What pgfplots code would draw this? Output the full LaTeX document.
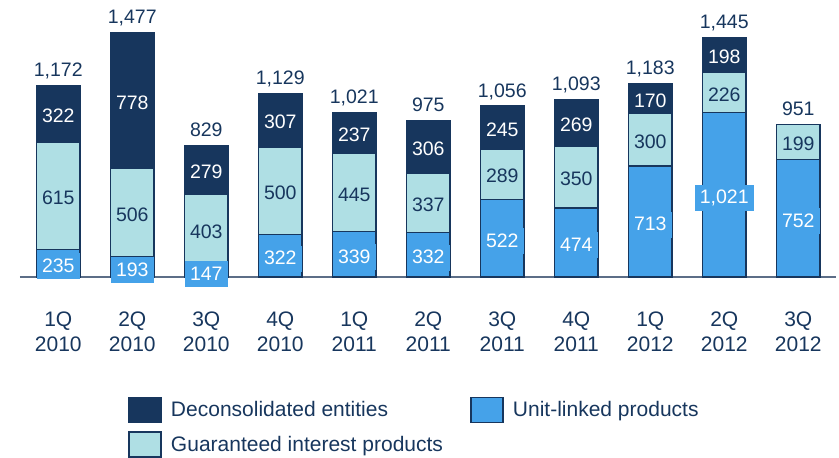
\documentclass[border=0pt]{standalone}
\usepackage{fontspec}
\setmainfont{Liberation Sans}
\usepackage{pgfplots}
\usepackage{pgfplotstable}
\pgfplotsset{compat=1.18}

\definecolor{navy}{HTML}{17365D}
\definecolor{ulblue}{HTML}{45A2E9}
\definecolor{gicyan}{HTML}{AFDFE4}
\definecolor{axgray}{HTML}{5C6E87}

\newcommand\lab{\fontsize{19.5}{22}\selectfont}
\newcommand\tck{\fontsize{21}{25}\selectfont}

\pgfplotsset{
    frame/.style={
        x=74pt, y=0.175pt,
        xmin=-0.52, xmax=10.51,
        ymin=79, ymax=1560,
        /pgf/number format/.cd, fixed, precision=0, 1000 sep={,}, assume math mode=true,
        /pgfplots/.cd,
    },
    swatch/.style={legend image code/.code={%
        \path[draw=none, fill=none] (0pt,0pt) rectangle (32pt,20.5pt);
        \draw[overlay, fill=#1, draw=navy, line width=1.3pt] (0pt,-12.5pt) rectangle (32pt,12.5pt);}},
}

% unit-linked, guaranteed interest, deconsolidated, total
\pgfplotstableread{
x  ul   gi   de   tot
0  235  615  322  1172
1  193  506  778  1477
2  147  403  279  829
3  322  500  307  1129
4  339  445  237  1021
5  332  337  306  975
6  522  289  245  1056
7  474  350  269  1093
8  713  300  170  1183
9  1021 226  198  1445
10 752  199  0    951
}\data

\begin{document}
\begin{tikzpicture}
\begin{axis}[
    frame,
    ybar stacked,
    bar width=43.3pt,
    axis x line*=bottom,
    hide y axis,
    x axis line style={draw=axgray, line width=1.5pt},
    xtick={0,...,10},
    xticklabels={{1Q\\2010},{2Q\\2010},{3Q\\2010},{4Q\\2010},{1Q\\2011},{2Q\\2011},
                 {3Q\\2011},{4Q\\2011},{1Q\\2012},{2Q\\2012},{3Q\\2012}},
    major tick length=0pt,
    xticklabel style={font=\tck, text=navy, align=center, anchor=north, inner sep=0pt, yshift=-35pt},
    legend columns=2,
    legend cell align=left,
    legend style={at={(0,0)}, anchor=north west, xshift=109pt, yshift=-112pt,
        draw=none, fill=none, inner sep=0pt, font=\tck, text=navy,
        nodes={inner sep=0pt}, row sep=6pt,
        /tikz/every odd column/.append style={column sep=10pt},
        /tikz/every even column/.append style={column sep=28pt}},
]
\addlegendimage{swatch=navy}
\addlegendimage{swatch=ulblue}
\addlegendimage{swatch=gicyan}

% stacked segment labels sit at the middle of each segment
\addplot[fill=ulblue, draw=navy, line width=1.3pt,
    nodes near coords, point meta=explicit,
    every node near coord/.style={anchor=center, font=\lab, text=white,
        fill=ulblue, inner xsep=5pt, inner ysep=5pt, text height=14pt, text depth=2pt,
        yshift=3.9pt}]
    table[x=x, y=ul, meta=ul] {\data};

\addplot[fill=gicyan, draw=navy, line width=1.3pt,
    nodes near coords, point meta=explicit,
    every node near coord/.style={anchor=center, font=\lab, text=navy,
        inner sep=0pt, yshift=-2pt}]
    table[x=x, y=gi, meta=gi] {\data};

\addplot[fill=navy, draw=navy, line width=1.3pt,
    nodes near coords={\pgfmathfloatifflags{\pgfplotspointmeta}{0}{}{\pgfmathprintnumber{\pgfplotspointmeta}}},
    point meta=explicit,
    every node near coord/.style={anchor=center, font=\lab, text=white,
        inner sep=0pt, yshift=-2pt}]
    table[x=x, y=de, meta=de] {\data};

\legend{Deconsolidated entities, Unit-linked products, Guaranteed interest products}
\coordinate (O) at (axis cs:-0.52,79);
\end{axis}

% totals above the bars
\begin{axis}[frame, hide axis, clip=false]
\addplot[draw=none, mark=none,
    nodes near coords, point meta=explicit,
    every node near coord/.style={anchor=base, font=\lab, text=navy,
        inner sep=0pt, yshift=9pt}]
    table[x=x, y=tot, meta=tot] {\data};
\end{axis}
\pgfresetboundingbox
\path[shift={(O)}] (-19.8pt,-181pt) rectangle (819.2pt,277pt);
\end{tikzpicture}
\end{document}
